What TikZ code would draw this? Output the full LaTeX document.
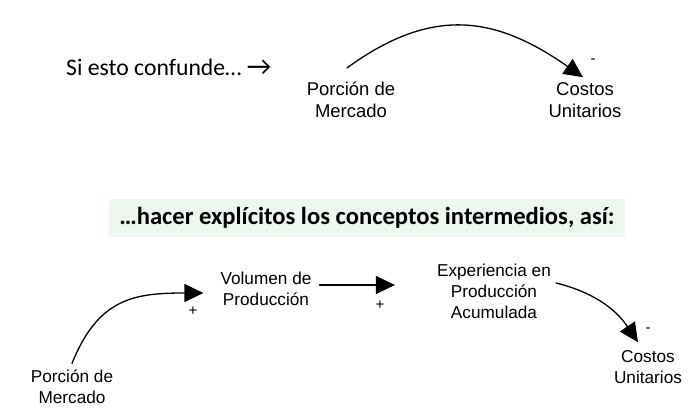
\documentclass[tikz,border=0pt]{standalone}
\usepackage{fontspec}
\setmainfont{Liberation Sans}
\newfontfamily\calibri{Carlito}
\usetikzlibrary{arrows.meta}
\definecolor{banner}{RGB}{238,246,240}
\begin{document}
\begin{tikzpicture}[x=1pt, y=1pt, line join=round, line cap=round,
  >={Triangle[length=19pt,width=18pt]},
  var/.style={align=center, inner sep=2pt, font=\fontsize{18.5}{22}\selectfont},
  varb/.style={align=center, inner sep=2pt, font=\fontsize{17.2}{21}\selectfont},
  sign/.style={inner sep=0pt, font=\fontsize{15}{15}\selectfont},
  cld/.style={->, line width=1.3pt}]
\useasboundingbox (0,0) rectangle (699,412);
% arriba
\node[anchor=base west, inner sep=0pt, font=\calibri\fontsize{23.7}{26}\selectfont] (txt) at (66,336) {Si esto confunde\dots\ {\fontsize{27}{27}\selectfont →}};
\node[var] (pm1) at (351,312) {Porción de\\Mercado};
\node[var] (cu1) at (585,312) {Costos\\Unitarios};
\node[sign] (m1) at (593,351) {-};
\draw[cld] ([shift={(-4pt,12pt)}]pm1.north) to[out=36, in=145, looseness=1.15] ([shift={(-2pt,3pt)}]cu1.north);
% abajo
\node[fill=banner, minimum width=516pt, minimum height=38pt, inner sep=0pt,
  font=\calibri\bfseries\fontsize{24.6}{28}\selectfont] (ban) at (367,194) {\dots hacer explícitos los conceptos intermedios, así:};
\node[varb] (pm2) at (72,25.5) {Porción de\\Mercado};
\node[varb] (vp) at (266,123) {Volumen de\\Producción};
\node[varb] (ep) at (494,120.5) {Experiencia en\\Producción\\Acumulada};
\node[varb] (cu2) at (648,45) {Costos\\Unitarios};
\node[sign] (p1) at (193,101) {+};
\node[sign] (p2) at (380,107) {+};
\node[sign] (m2) at (648,82) {-};
\draw[cld] ([yshift=4pt]pm2.north) to[out=68, in=180, looseness=1.2] ([shift={(-15pt,-4pt)}]vp.west);
\draw[cld] ([shift={(6pt,4pt)}]vp.east) -- ([shift={(-40pt,6.5pt)}]ep.west);
\draw[cld] ([shift={(3pt,8.5pt)}]ep.east) to[out=-14, in=124] ([shift={(-10pt,6pt)}]cu2.north);
\end{tikzpicture}
\end{document}
